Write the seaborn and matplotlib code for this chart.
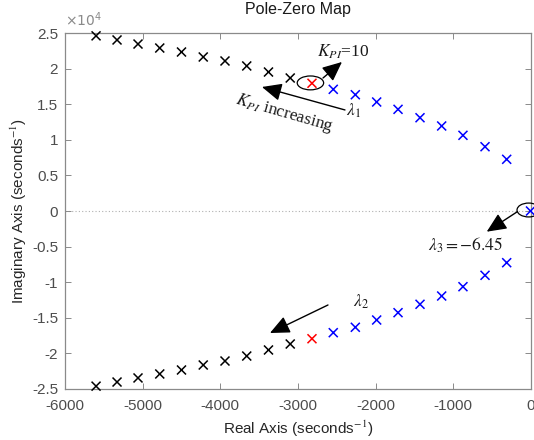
import matplotlib
matplotlib.use("Agg")
import matplotlib.pyplot as plt
import seaborn as sns
import pandas as pd
from matplotlib.patches import Ellipse

# ---- data ----
black_re = [-5600, -5330, -5060, -4780, -4500, -4220, -3940, -3660, -3380, -3100]
black_im_upper = [24600, 24020, 23450, 22890, 22330, 21630, 21070, 20370, 19520, 18680]
black_im_lower = [-24600, -24020, -23450, -22890, -22330, -21630, -21070, -20370, -19520, -18680]

red_re = [-2820]
red_im_upper = [17940]
red_im_lower = [-17940]

blue_re = [-2546, -2262, -1987, -1712, -1429, -1150, -876, -592, -313]
blue_im_upper = [17090, 16330, 15310, 14280, 13100, 11940, 10630, 9030, 7260]
blue_im_lower = [-17090, -16330, -15310, -14280, -13100, -11940, -10630, -9030, -7260]

zero_pole_re = [-6.45]
zero_pole_im = [0]

yticks = [-25000, -20000, -15000, -10000, -5000, 0, 5000, 10000, 15000, 20000, 25000]
ytick_labels = ["-2.5", "-2", "-1.5", "-1", "-0.5", "0", "0.5", "1", "1.5", "2", "2.5"]
xticks = [-6000, -5000, -4000, -3000, -2000, -1000, 0]
xtick_labels = ["-6000", "-5000", "-4000", "-3000", "-2000", "-1000", "0"]

rows = []
for xs, ys, g in [(black_re, black_im_upper, "k"), (black_re, black_im_lower, "k"),
                  (red_re, red_im_upper, "r"), (red_re, red_im_lower, "r"),
                  (blue_re, blue_im_upper, "b"), (blue_re, blue_im_lower, "b"),
                  (zero_pole_re, zero_pole_im, "b")]:
    for x, y in zip(xs, ys):
        rows.append({"re": x, "im": y, "grp": g})
df = pd.DataFrame(rows)

sns.set_theme(style="white")
plt.rcParams["font.family"] = ["Liberation Sans", "DejaVu Sans"]
plt.rcParams["mathtext.fontset"] = "stix"

fig = plt.figure(figsize=(5.34, 4.40), dpi=100)
ax = fig.add_axes([65 / 534, 1 - 389 / 440, 466 / 534, 356 / 440])

ax.axhline(0, color="#b0b0b0", linestyle=(0, (1, 2)), linewidth=0.8, zorder=0)

sns.scatterplot(data=df, x="re", y="im", hue="grp",
                palette={"k": "black", "r": "#ff0000", "b": "#0000ff"},
                marker="x", s=42, linewidth=1.1, legend=False, ax=ax, zorder=3, clip_on=False)

ax.set_xlim(-6000, 0)
ax.set_ylim(-25000, 25000)
ax.set_xticks(xticks)
ax.set_xticklabels(xtick_labels)
ax.set_yticks(yticks)
ax.set_yticklabels(ytick_labels)

gray = "#4d4d4d"
for s in ax.spines.values():
    s.set_color("#8a8a8a")
    s.set_linewidth(0.9)
ax.tick_params(direction="in", length=4, width=0.7, color="#8a8a8a",
               labelsize=11, labelcolor=gray, top=True, right=True,
               bottom=True, left=True)
ax.tick_params(axis="x", pad=7)
ax.tick_params(axis="y", pad=5)

ax.set_xlabel("Real Axis (seconds$^{-1}$)", fontsize=11, color="#262626", labelpad=4)
ax.set_ylabel("Imaginary Axis (seconds$^{-1}$)", fontsize=11, color="#262626", labelpad=2)
ax.set_title("Pole-Zero Map", fontsize=11.5, color="#1a1a1a", pad=14)
ax.text(0.0, 1.01, r"$\times10^4$", transform=ax.transAxes, fontsize=10,
        color="#8a8a8a", ha="left", va="bottom", family="DejaVu Sans",
        math_fontfamily="dejavusans")

# ellipses
ax.add_patch(Ellipse((-2840, 17990), 340, 1950, fill=False, edgecolor="black", linewidth=0.9, zorder=4))
ax.add_patch(Ellipse((-30, 140), 300, 1950, fill=False, edgecolor="black", linewidth=0.9, zorder=4, clip_on=False))

ap = dict(arrowstyle="-|>,head_length=1.0,head_width=0.45", color="black", lw=1.0, shrinkA=0, shrinkB=0)
tf = dict(family="Liberation Serif", fontsize=12.5, color="#1a1a1a")

ax.annotate("", xy=(-2434, 20930), xytext=(-2678, 18680), arrowprops=ap)
ax.text(-2420, 22330, r"$K_{PI}$=10", ha="center", va="center", **tf)

ax.annotate("", xy=(-3464, 17420), xytext=(-2395, 14190), arrowprops=ap)
ax.text(-2280, 14050, r"$\lambda_1$", ha="center", va="center", **tf)
ax.text(-3170, 13750, r"$K_{PI}$ increasing", ha="center", va="center",
        rotation=-16, rotation_mode="anchor", **tf)

ax.annotate("", xy=(-3361, -17135), xytext=(-2614, -13200), arrowprops=ap)
ax.text(-2189, -12780, r"$\lambda_2$", ha="center", va="center", **tf)

ax.annotate("", xy=(-570, -2907), xytext=(-176, -99), arrowprops=ap)
ax.text(-840, -4780, r"$\lambda_3 = -6.45$", ha="center", va="center", **tf)

fig.savefig("out.png", dpi=100)
